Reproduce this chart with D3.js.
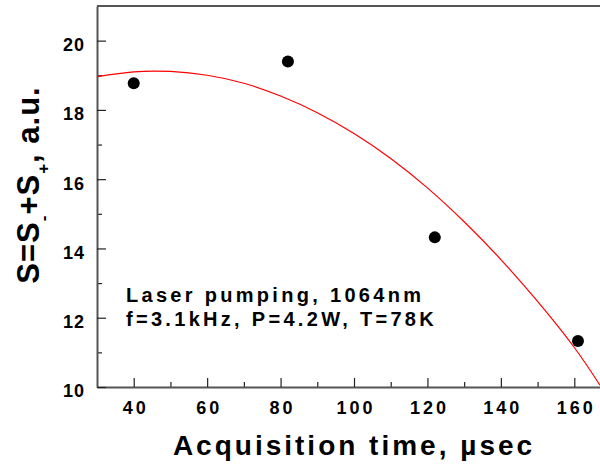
<!DOCTYPE html>
<html><head><meta charset="utf-8">
<script src="https://cdn.jsdelivr.net/npm/d3@7"></script>
<style>
body{margin:0;background:#fff;}
svg{display:block;font-family:Arial,"Liberation Sans",Helvetica,sans-serif;}
</style></head>
<body>
<svg id="c" width="600" height="466"></svg>
<script>
// measured points
const pointX = [40, 82, 122, 161];
const pointY = [18.77, 19.4, 14.32, 11.33];
// fitted curve
const fitX = [30, 40, 50, 60, 70, 80, 90, 100, 110, 120, 130, 140, 150, 160, 167];
const fitY = [18.96, 19.10, 19.11, 19.00, 18.77, 18.40, 17.92, 17.32, 16.60, 15.75, 14.77, 13.68, 12.47, 11.14, 10.05];
// ticks
const xMajor = [40, 60, 80, 100, 120, 140, 160];
const xMinor = [50, 70, 90, 110, 130, 150];
const yMajor = [10, 12, 14, 16, 18, 20];
const yMinor = [11, 13, 15, 17, 19];
const xDomain = [30, 167];
const yDomain = [10, 21];
const noteLines = ["Laser pumping, 1064nm", "f=3.1kHz, P=4.2W, T=78K"];

const W = 600, H = 466;
const m = {left: 97, top: 6, right: 0, bottom: 79};
const svg = d3.select("#c");
const x = d3.scaleLinear().domain(xDomain).range([m.left, W - m.right]);
const y = d3.scaleLinear().domain(yDomain).range([H - m.bottom, m.top]);
const axisCol = "#555";

// minor ticks
svg.append("g").attr("transform", `translate(0,${H - m.bottom})`)
  .call(d3.axisBottom(x).tickValues(xMinor).tickSize(-5).tickFormat(""))
  .call(g => { g.select(".domain").remove(); g.selectAll("line").attr("stroke", "#222").attr("stroke-width", 1.2); });
svg.append("g").attr("transform", `translate(${m.left},0)`)
  .call(d3.axisLeft(y).tickValues(yMinor).tickSize(-5).tickFormat(""))
  .call(g => { g.select(".domain").remove(); g.selectAll("line").attr("stroke", "#222").attr("stroke-width", 1.2); });

// major axes
const xAx = svg.append("g").attr("transform", `translate(0,${H - m.bottom})`)
  .call(d3.axisBottom(x).tickValues(xMajor).tickSize(-9).tickSizeOuter(0).tickPadding(14));
xAx.select(".domain").attr("stroke", axisCol).attr("stroke-width", 2);
xAx.selectAll(".tick line").attr("stroke", "#222").attr("stroke-width", 1.2);
xAx.selectAll("text").attr("font-size", 18).attr("font-weight", "bold").attr("fill", "#000")
  .attr("font-family", "Arial, 'Liberation Sans', sans-serif").style("letter-spacing", "3px").attr("dx", "1.5");

const yAx = svg.append("g").attr("transform", `translate(${m.left},0)`)
  .call(d3.axisLeft(y).tickValues(yMajor).tickSize(-9).tickSizeOuter(0).tickPadding(12));
yAx.select(".domain").attr("stroke", axisCol).attr("stroke-width", 2);
yAx.selectAll(".tick line").attr("stroke", "#222").attr("stroke-width", 1.2);
yAx.selectAll("text").attr("font-size", 18).attr("font-weight", "bold").attr("fill", "#000")
  .attr("font-family", "Arial, 'Liberation Sans', sans-serif").attr("dy", "0.55em").style("letter-spacing", "1px");

// top frame line
svg.append("line").attr("x1", x(xDomain[0])).attr("x2", x(xDomain[1]))
  .attr("y1", y(yDomain[1])).attr("y2", y(yDomain[1]))
  .attr("stroke", axisCol).attr("stroke-width", 2);

// fit curve
const fitData = fitX.map((v, i) => [v, fitY[i]]);
svg.append("path").datum(fitData)
  .attr("d", d3.line().x(d => x(d[0])).y(d => y(d[1])).curve(d3.curveNatural))
  .attr("fill", "none").attr("stroke", "#ff0000").attr("stroke-width", 1.2);

// points
svg.append("g").selectAll("circle").data(pointX.map((v, i) => [v, pointY[i]])).join("circle")
  .attr("cx", d => x(d[0])).attr("cy", d => y(d[1])).attr("r", 6).attr("fill", "#000");

// annotation
const note = svg.append("text").attr("x", 126).attr("y", 302)
  .attr("font-size", 20).attr("font-weight", "bold").style("letter-spacing", "3.3px");
noteLines.forEach((t, i) => note.append("tspan").attr("x", 126).attr("dy", i ? 23.5 : 0).text(t));

// x title
svg.append("text").attr("x", 354).attr("y", 455).attr("text-anchor", "middle")
  .attr("font-size", 28).attr("font-weight", "bold").style("letter-spacing", "3px")
  .text("Acquisition time, \u00b5sec");

// y title
const yt = svg.append("text").attr("transform", "translate(39,185) rotate(-90)")
  .attr("text-anchor", "middle").attr("font-size", 31).attr("font-weight", "bold")
  .style("letter-spacing", "1px");
yt.append("tspan").text("S=S");
yt.append("tspan").attr("font-size", 17).attr("dy", 10).text("-");
yt.append("tspan").attr("dy", -10).text("+S");
yt.append("tspan").attr("font-size", 17).attr("dy", 10).text("+");
yt.append("tspan").attr("dy", -10).text(", a.u.");
</script>
</body></html>
